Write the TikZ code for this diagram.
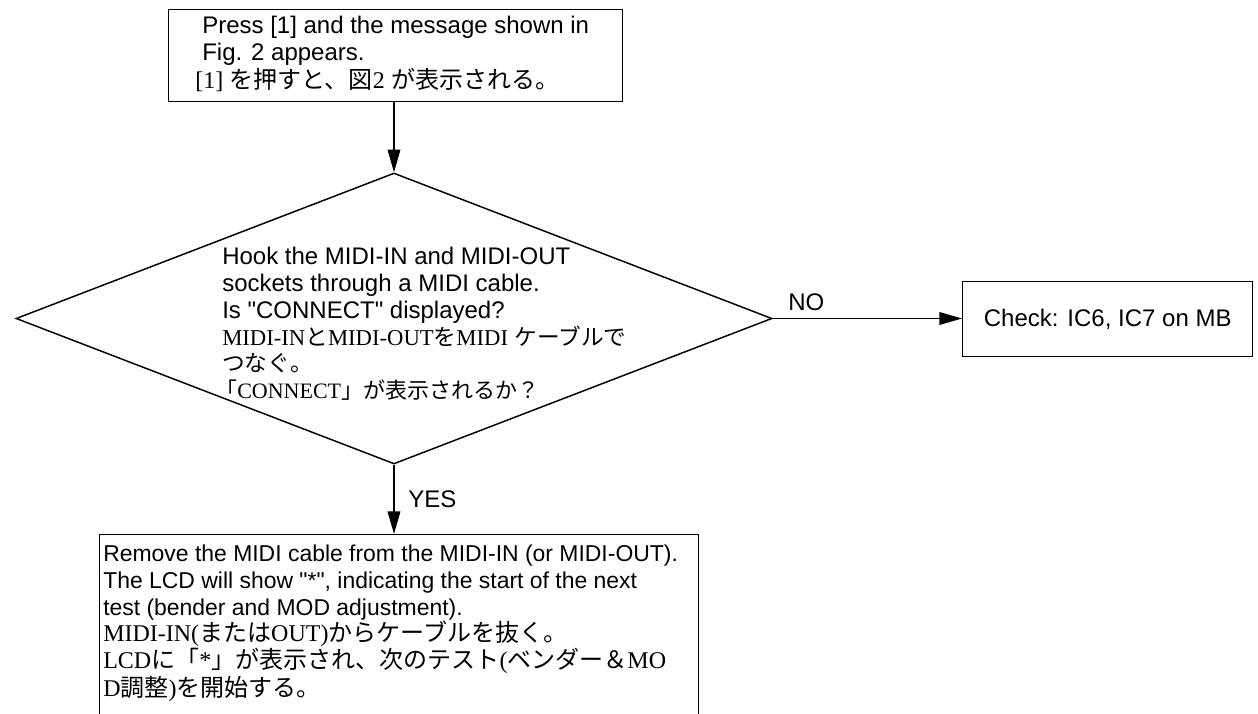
\documentclass[tikz,border=0pt]{standalone}
\usepackage{fontspec}
\setmainfont{Liberation Sans}
\newfontfamily\jpfont{Noto Sans CJK JP}
\newfontfamily\tmsfont{Liberation Serif}
\usetikzlibrary{arrows.meta,shapes.geometric}
\newcommand\JP[1]{{\jpfont #1}}
\newcommand\TM[1]{{\tmsfont #1}}
\begin{document}
\begin{tikzpicture}[x=0.75pt,y=-0.75pt,
  box/.style={draw,line width=1.1pt,inner sep=0pt,anchor=north west},
  txt/.style={anchor=base west,inner sep=0pt,font=\fontsize{18}{20}\selectfont},
  conn/.style={line width=1.1pt,-{Triangle[length=17pt,width=9.5pt]}}]
\useasboundingbox (0,0) rectangle (1258,714);
\clip (0,0) rectangle (1258,714);
% shapes
\node[box,minimum width=340.5pt,minimum height=69pt] (top) at (168,9) {};
\node[draw,line width=1.1pt,diamond,inner sep=0pt,minimum width=567pt,minimum height=218.25pt] (dia) at (394,318.5) {};
\node[box,minimum width=217.5pt,minimum height=56.25pt] (chk) at (962,281) {};
\node[box,minimum width=449.25pt,minimum height=150pt] (bot) at (99,534) {};
% connectors
\draw[conn] (dia.north |- top.south) -- (dia.north);
\draw[conn] (dia.east) -- (dia.east -| chk.west);
\draw[conn] (dia.south) -- (dia.south |- bot.north);
\node[txt] (no) at (788,310) {NO};
\node[txt] (yes) at (408,507) {YES};
% top box text
\node[txt] (t1) at (202,33) {Press [1] and the message shown in};
\node[txt] (t2) at (202,60) {Fig. 2 appears.};
\node[txt] (t3) at (195,88) {\TM{[1]} \JP{を押すと、図}\TM{2} \JP{が表示される。}};
% diamond text
\node[txt] (d1) at (222,264) {Hook the MIDI-IN and MIDI-OUT};
\node[txt] (d2) at (222,291) {sockets through a MIDI cable.};
\node[txt] (d3) at (222,318) {Is \textquotedbl CONNECT\textquotedbl{} displayed?};
\node[txt,font=\fontsize{17}{20}\selectfont] (d4) at (222,345) {\TM{MIDI-IN}\JP{と}\TM{MIDI-OUT}\JP{を}\TM{MIDI} \JP{ケーブルで}};
\node[txt,font=\fontsize{17}{20}\selectfont] (d5) at (222,371) {\JP{つなぐ。}};
\node[txt,font=\fontsize{16.5}{20}\selectfont] (d6) at (215,398) {\JP{「}\TM{CONNECT}\JP{」が表示されるか？}};
% right box text
\node[anchor=center,inner sep=0pt,font=\fontsize{18}{20}\selectfont] (c1) at (chk.center) {Check: IC6, IC7 on MB};
% bottom box text
\tikzset{btxt/.style={txt,font=\fontsize{17.2}{20}\selectfont}}
\node[btxt] (b1) at (103,561) {Remove the MIDI cable from the MIDI-IN (or MIDI-OUT).};
\node[btxt] (b2) at (103,588) {The LCD will show \textquotedbl*\textquotedbl, indicating the start of the next};
\node[btxt] (b3) at (103,615) {test (bender and MOD adjustment).};
\node[txt] (b4) at (103,641) {\TM{MIDI-IN(}\JP{または}\TM{OUT)}\JP{からケーブルを抜く。}};
\node[txt] (b5) at (103,668) {\TM{LCD}\JP{に「}\TM{*}\JP{」が表示され、次のテスト}\TM{(}\JP{ベンダー＆}\TM{MO}};
\node[txt] (b6) at (103,696) {\TM{D}\JP{調整}\TM{)}\JP{を開始する。}};
\end{tikzpicture}
\end{document}
